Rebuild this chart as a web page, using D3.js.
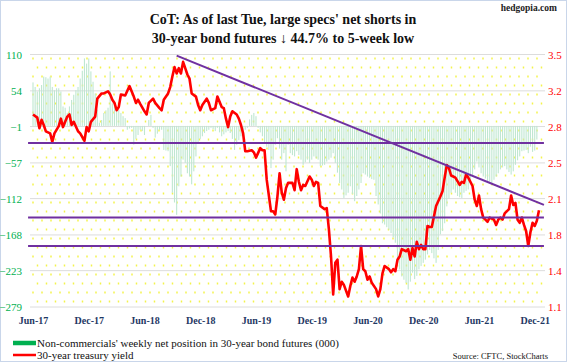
<!DOCTYPE html>
<html>
<head>
<meta charset="utf-8">
<script src="https://cdn.jsdelivr.net/npm/d3@7"></script>
<style>
  body { margin: 0; background: #fff; }
  svg { display: block; font-family: "Liberation Serif", "Times New Roman", serif; }
</style>
</head>
<body>
<div id="chart"></div>
<script>
// x-axis labels, one every 26 weeks (week 0 = first week of Jun 2017)
const tickLabels = ["Jun-17", "Dec-17", "Jun-18", "Dec-18", "Jun-19", "Dec-19", "Jun-20", "Dec-20", "Jun-21", "Dec-21"];
const leftTicks = [110, 54, -1, -57, -112, -168, -223, -279];
const rightTickLabels = ["3.5", "3.2", "2.8", "2.5", "2.1", "1.8", "1.4", "1.1"];

// non-commercials' weekly net position in 30-year bond futures (000), one value per week
const netPosition = [
  67, 60, 53, 58, 63, 76, 75, 73, 76, 60, 55, 58, 58, 53, 30, 28, 20, 30, 40, 48,
  55, 60, 73, 85, 104, 96, 104, 84, 68, 50, 25, 5, 9, 20, 24, 28, 84, 35, 30, 27,
  25, 20, 15, 12, -6, -4, -3, -29, -20, -14, -6, -8, -14, 0, 9, 17, -3, -18, -12, -6,
  -6, -37, -38, -39, -62, -103, -118, -137, -93, -78, -52, -57, -73, -78, -90, -70, -47, -27, -20, -16,
  -11, -8, -6, -3, -5, -8, -3, -10, -16, -13, -10, -8, -11, -20, -37, -29, -22, -16, -11, -6,
  -3, 10, 17, 20, 15, -3, -10, -16, -27, -32, -37, -65, -52, -29, -19, -35, -52, -42, -70, -29,
  -42, -45, -47, -39, -45, -52, -60, -56, -52, -57, -52, -47, -50, -52, -62, -61, -60, -55, -52, -49,
  -42, -57, -72, -88, -98, -111, -107, -103, -93, -105, -116, -108, -98, -88, -73, -75, -78, -80, -82, -83,
  -108, -121, -135, -150, -152, -156, -160, -165, -172, -180, -211, -221, -232, -237, -242, -252, -240, -226, -236, -231,
  -221, -216, -211, -206, -198, -191, -196, -204, -211, -191, -167, -162, -150, -124, -112, -103, -98, -103, -108, -110,
  -111, -103, -100, -98, -88, -78, -67, -55, -64, -73, -78, -81, -85, -86, -88, -83, -78, -73, -67, -64,
  -62, -67, -71, -75, -70, -60, -53, -47, -39, -38, -37, -42, -32, -40, -38, -21
];

// 30-year treasury yield (%), [week, yield]
const yieldSeries = [
  [0, 2.93], [2, 2.90], [3, 2.80], [4, 2.88], [5, 2.83], [6, 2.77], [8, 2.75], [9, 2.67], [10, 2.75],
  [12, 2.82], [13, 2.89], [14, 2.81], [16, 2.91], [17, 2.93], [18, 2.83], [19, 2.86], [21, 2.77],
  [22, 2.75], [24, 2.68], [25, 2.81], [26, 2.77], [27, 2.86], [29, 2.91], [30, 3.08], [32, 3.13],
  [33, 3.13], [35, 3.15], [36, 3.12], [37, 3.07], [38, 3.04], [39, 2.97], [40, 3.00], [41, 3.12],
  [43, 3.11], [45, 3.20], [47, 3.10], [48, 3.04], [49, 3.07], [50, 3.03], [52, 2.96], [53, 2.93],
  [54, 3.04], [56, 3.08], [57, 3.04], [59, 2.99], [60, 2.97], [61, 3.07], [63, 3.13], [64, 3.19],
  [65, 3.29], [66, 3.38], [67, 3.32], [68, 3.37], [69, 3.32], [70, 3.43], [71, 3.37], [72, 3.31],
  [73, 3.27], [74, 3.13], [76, 3.10], [77, 3.02], [78, 2.97], [79, 3.02], [81, 3.08], [82, 3.04],
  [83, 2.97], [85, 2.99], [86, 3.10], [88, 3.00], [89, 2.99], [90, 2.89], [91, 2.81], [92, 2.91],
  [93, 2.96], [95, 2.93], [96, 2.89], [97, 2.83], [98, 2.75], [99, 2.58], [100, 2.58], [102, 2.59],
  [103, 2.57], [104, 2.52], [106, 2.61], [107, 2.59], [108, 2.59], [109, 2.31], [111, 2.01], [112, 2.01],
  [113, 1.98], [114, 2.15], [115, 2.37], [116, 2.19], [117, 2.12], [118, 2.23], [119, 2.28], [121, 2.28],
  [122, 2.21], [123, 2.41], [124, 2.29], [125, 2.21], [126, 2.26], [127, 2.25], [129, 2.34], [130, 2.31],
  [131, 2.25], [132, 2.29], [133, 2.28], [134, 2.06], [136, 2.03], [137, 2.04], [138, 1.84], [139, 1.58],
  [140, 1.22], [141, 1.52], [142, 1.55], [143, 1.27], [144, 1.34], [145, 1.31], [147, 1.20], [148, 1.30],
  [149, 1.38], [150, 1.34], [151, 1.39], [152, 1.46], [153, 1.68], [154, 1.46], [155, 1.44], [156, 1.36],
  [157, 1.39], [158, 1.33], [160, 1.27], [161, 1.20], [162, 1.27], [163, 1.42], [164, 1.49], [166, 1.46],
  [167, 1.43], [168, 1.46], [169, 1.44], [170, 1.55], [171, 1.58], [172, 1.65], [174, 1.63], [175, 1.65],
  [176, 1.55], [177, 1.66], [178, 1.58], [179, 1.72], [180, 1.65], [181, 1.69], [182, 1.65], [183, 1.65],
  [184, 1.87], [185, 1.86], [186, 1.86], [187, 1.96], [188, 2.06], [190, 2.15], [191, 2.20], [192, 2.33],
  [193, 2.45], [194, 2.42], [195, 2.35], [196, 2.34], [197, 2.33], [199, 2.26], [200, 2.29], [201, 2.28],
  [202, 2.36], [203, 2.33], [205, 2.25], [206, 2.12], [207, 2.06], [208, 2.16], [209, 2.03], [210, 1.95],
  [211, 1.93], [212, 1.91], [213, 1.95], [215, 1.93], [216, 1.88], [217, 1.93], [218, 1.95], [219, 1.93],
  [220, 1.99], [222, 2.03], [223, 2.16], [224, 2.07], [225, 2.09], [226, 1.93], [227, 1.90], [228, 1.95],
  [229, 1.88], [230, 1.82], [231, 1.68], [232, 1.81], [233, 1.90], [234, 1.87], [235, 1.92], [236, 2.02]
];

// purple lines drawn on the yield scale: [week0, yield0, week1, yield1]
const supportLines = [
  [-2.3, 2.66, 238.3, 2.66],
  [-2.3, 1.95, 238.3, 1.95],
  [-2.3, 1.68, 238.3, 1.68]
];
const trendLine = [67, 3.49, 238.3, 2.07];

const width = 567;
const height = 362;
const plot = { left: 30, right: 545, top: 54.5, bottom: 307 };

const svg = d3.select("#chart").append("svg")
  .attr("width", width)
  .attr("height", height);

svg.append("rect")
  .attr("x", 0.5).attr("y", 0.5)
  .attr("width", width - 1).attr("height", height - 1)
  .attr("fill", "#fff")
  .attr("stroke", "#c9d6ea");

// yellow dotted background
const defs = svg.append("defs");
const pat = defs.append("pattern")
  .attr("id", "dots")
  .attr("patternUnits", "userSpaceOnUse")
  .attr("width", 9).attr("height", 18)
  .attr("x", plot.left).attr("y", plot.top);
pat.append("circle").attr("cx", 3).attr("cy", 4).attr("r", 0.9).attr("fill", "#f2f23a");
pat.append("circle").attr("cx", 7.5).attr("cy", 13).attr("r", 0.9).attr("fill", "#f2f23a");

svg.append("rect")
  .attr("x", plot.left).attr("y", plot.top)
  .attr("width", plot.right - plot.left).attr("height", plot.bottom - plot.top)
  .attr("fill", "url(#dots)");

// scales
const x = d3.scaleLinear().domain([0, 236]).range([33, 539]);
const yL = d3.scaleLinear().domain([-279, 110]).range([plot.bottom, plot.top]);
const yR = d3.scaleLinear().domain([1.1, 3.5]).range([plot.bottom, plot.top]);
const rightTicks = d3.range(rightTickLabels.length).map(i => 3.5 - i * (3.5 - 1.1) / (rightTickLabels.length - 1));

// gridlines
svg.append("g")
  .selectAll("line")
  .data(leftTicks)
  .join("line")
  .attr("x1", plot.left).attr("x2", plot.right)
  .attr("y1", d => yL(d)).attr("y2", d => yL(d))
  .attr("stroke", "#dcdcdc")
  .attr("stroke-width", 1);

// net position bars
svg.append("g")
  .selectAll("rect")
  .data(netPosition)
  .join("rect")
  .attr("x", (d, i) => x(i) - 0.55)
  .attr("width", 1.1)
  .attr("y", d => Math.min(yL(d), yL(0)))
  .attr("height", d => Math.abs(yL(d) - yL(0)))
  .attr("fill", "#bfe7d1");

// yield line
const line = d3.line()
  .x(d => x(d[0]))
  .y(d => yR(d[1]));

svg.append("path")
  .datum(yieldSeries)
  .attr("fill", "none")
  .attr("stroke", "#ff0000")
  .attr("stroke-width", 2.6)
  .attr("stroke-linejoin", "round")
  .attr("d", line);

// purple support / trend lines
svg.append("g")
  .selectAll("line")
  .data(supportLines.concat([trendLine]))
  .join("line")
  .attr("x1", d => x(d[0])).attr("y1", d => yR(d[1]))
  .attr("x2", d => x(d[2])).attr("y2", d => yR(d[3]))
  .attr("stroke", "#7030a0")
  .attr("stroke-width", 2);

// axes
const leftAxis = svg.append("g")
  .attr("transform", "translate(22,0)")
  .call(d3.axisLeft(yL).tickValues(leftTicks).tickSize(0).tickPadding(0));
leftAxis.select(".domain").remove();
leftAxis.selectAll("text")
  .attr("fill", "#00b050")
  .style("font-size", "11px")
  .style("font-family", "Liberation Serif, serif");

const rightAxis = svg.append("g")
  .attr("transform", "translate(548,0)")
  .call(d3.axisRight(yR).tickValues(rightTicks).tickFormat((d, i) => rightTickLabels[i]).tickSize(0).tickPadding(0));
rightAxis.select(".domain").remove();
rightAxis.selectAll("text")
  .attr("fill", "#ff0000")
  .style("font-size", "11px")
  .style("font-family", "Liberation Serif, serif");

const bottomAxis = svg.append("g")
  .attr("transform", `translate(0,${plot.bottom})`)
  .call(d3.axisBottom(x)
    .tickValues(tickLabels.map((d, i) => i * 26))
    .tickFormat((d, i) => tickLabels[i])
    .tickSize(0).tickPadding(10));
bottomAxis.select(".domain").remove();
bottomAxis.selectAll("text")
  .attr("fill", "#1f3864")
  .style("font-size", "10px")
  .style("font-weight", "bold")
  .style("font-family", "Liberation Serif, serif");

// title
const title = svg.append("text")
  .attr("text-anchor", "middle")
  .attr("font-weight", "bold")
  .attr("font-size", 14)
  .attr("fill", "#111");
title.append("tspan").attr("x", 283).attr("y", 24).text("CoT: As of last Tue, large specs' net shorts in");
title.append("tspan").attr("x", 283).attr("y", 43).text("30-year bond futures \u2193 44.7% to 5-week low");

svg.append("text")
  .attr("x", 557).attr("y", 11)
  .attr("text-anchor", "end")
  .attr("font-weight", "bold")
  .attr("font-size", 9.5)
  .attr("fill", "#222")
  .text("hedgopia.com");

// legend
const legend = [
  { label: "Non-commercials' weekly net position in 30-year bond futures (000)", color: "#00b050", h: 4.5, y: 343 },
  { label: "30-year treasury yield", color: "#ff0000", h: 2.5, y: 355 }
];
const lg = svg.append("g")
  .selectAll("g")
  .data(legend)
  .join("g");
lg.append("rect")
  .attr("x", 13).attr("width", 23)
  .attr("y", d => d.y - d.h / 2)
  .attr("height", d => d.h)
  .attr("fill", d => d.color);
lg.append("text")
  .attr("x", 37)
  .attr("y", d => d.y + 4)
  .attr("font-size", 11)
  .attr("fill", "#111")
  .text(d => d.label);

svg.append("text")
  .attr("x", 548).attr("y", 359)
  .attr("text-anchor", "end")
  .attr("font-size", 8.5)
  .attr("fill", "#111")
  .text("Source: CFTC, StockCharts");
</script>
</body>
</html>
